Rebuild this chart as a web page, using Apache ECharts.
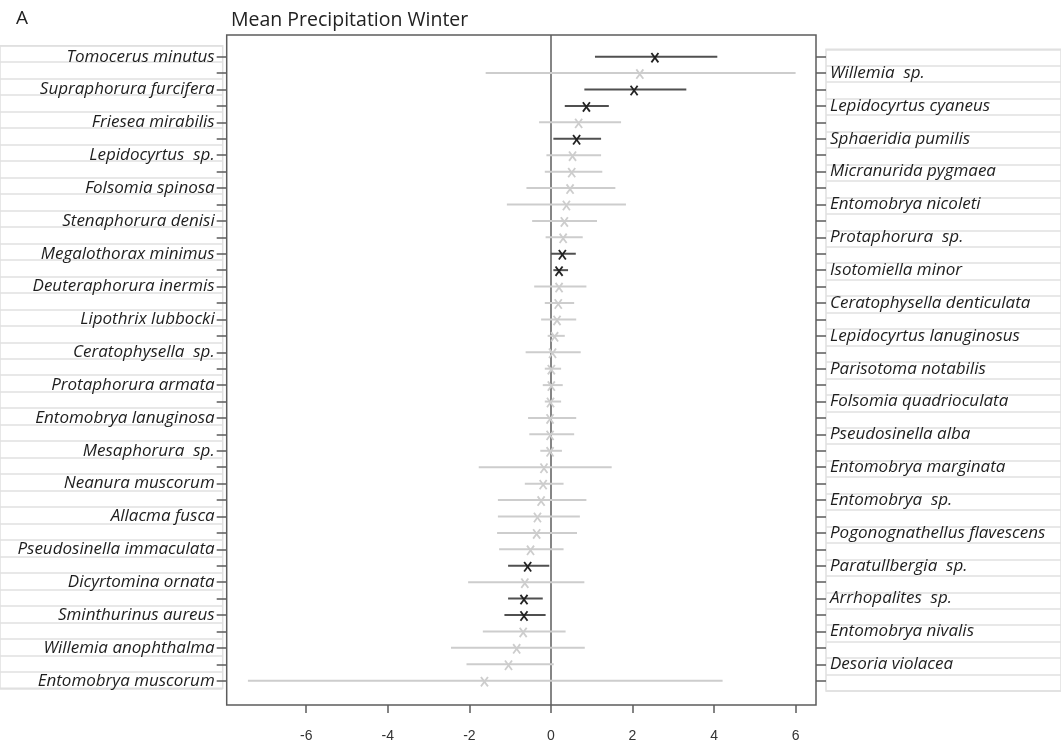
<!DOCTYPE html>
<html>
<head>
<meta charset="utf-8">
<title>Mean Precipitation Winter</title>
<script src="https://cdn.jsdelivr.net/npm/echarts@6/dist/echarts.min.js"></script>
<style>
  html, body { margin: 0; padding: 0; background: #ffffff; }
  #chart { width: 1061px; height: 749px; }
</style>
</head>
<body>
<div id="chart"></div>
<script>
// Species, ordered from the largest to the smallest effect (row 0 at the top)
const species = [
  'Tomocerus minutus', 'Willemia  sp.', 'Supraphorura furcifera', 'Lepidocyrtus cyaneus',
  'Friesea mirabilis', 'Sphaeridia pumilis', 'Lepidocyrtus  sp.', 'Micranurida pygmaea',
  'Folsomia spinosa', 'Entomobrya nicoleti', 'Stenaphorura denisi', 'Protaphorura  sp.',
  'Megalothorax minimus', 'Isotomiella minor', 'Deuteraphorura inermis', 'Ceratophysella denticulata',
  'Lipothrix lubbocki', 'Lepidocyrtus lanuginosus', 'Ceratophysella  sp.', 'Parisotoma notabilis',
  'Protaphorura armata', 'Folsomia quadrioculata', 'Entomobrya lanuginosa', 'Pseudosinella alba',
  'Mesaphorura  sp.', 'Entomobrya marginata', 'Neanura muscorum', 'Entomobrya  sp.',
  'Allacma fusca', 'Pogonognathellus flavescens', 'Pseudosinella immaculata', 'Paratullbergia  sp.',
  'Dicyrtomina ornata', 'Arrhopalites  sp.', 'Sminthurinus aureus', 'Entomobrya nivalis',
  'Willemia anophthalma', 'Desoria violacea', 'Entomobrya muscorum'
];

// Effect estimates with lower and upper interval bounds
const estimate = [
  2.55, 2.18, 2.04, 0.87, 0.68, 0.63, 0.53, 0.51, 0.47, 0.38,
  0.33, 0.30, 0.28, 0.20, 0.20, 0.18, 0.15, 0.09, 0.04, 0.01,
  0.01, -0.01, -0.02, -0.02, -0.02, -0.17, -0.19, -0.24, -0.33, -0.35,
  -0.50, -0.57, -0.64, -0.66, -0.66, -0.68, -0.84, -1.04, -1.63
];
const lower = [
  1.08, -1.60, 0.82, 0.34, -0.29, 0.06, -0.11, -0.15, -0.60, -1.08,
  -0.46, -0.13, 0.00, 0.06, -0.41, -0.15, -0.24, -0.08, -0.62, -0.15,
  -0.20, -0.15, -0.56, -0.53, -0.26, -1.77, -0.64, -1.30, -1.30, -1.32,
  -1.27, -1.05, -2.03, -1.05, -1.14, -1.67, -2.45, -2.07, -7.43
];
const upper = [
  4.08, 6.00, 3.32, 1.42, 1.72, 1.23, 1.23, 1.26, 1.58, 1.84,
  1.13, 0.78, 0.61, 0.42, 0.87, 0.57, 0.62, 0.34, 0.73, 0.25,
  0.29, 0.25, 0.62, 0.57, 0.27, 1.49, 0.31, 0.87, 0.71, 0.64,
  0.31, -0.04, 0.82, -0.20, -0.13, 0.36, 0.83, 0.07, 4.21
];
// 1 = interval excludes zero (drawn dark), 0 = not significant (drawn light)
const significant = [
  1, 0, 1, 1, 0, 1, 0, 0, 0, 0,
  0, 0, 1, 1, 0, 0, 0, 0, 0, 0,
  0, 0, 0, 0, 0, 0, 0, 0, 0, 0,
  0, 1, 0, 1, 1, 0, 0, 0, 0
];

const xTicks = [-6, -4, -2, 0, 2, 4, 6];

const rows = species.map((_, i) => i);
const leftRows = rows.filter(i => i % 2 === 0);
const rightRows = rows.filter(i => i % 2 === 1);
const seriesData = rows.map(i => [lower[i], upper[i], estimate[i], i, significant[i]]);

const DARK_LINE = '#505050';
const DARK_MARK = '#222222';
const LIGHT = '#cdcdcd';
const FRAME = '#5c5c5c';
const TABLE = '#e0e0e0';
const LABEL_FONT = '"Open Sans", Lato, sans-serif';

const chart = echarts.init(document.getElementById('chart'), null, { renderer: 'canvas' });

function tableAxis(gridIndex) {
  return {
    type: 'value', gridIndex: gridIndex, min: 0, max: species.length, interval: 1,
    axisLine: { show: false, onZero: false }, axisTick: { show: false }, axisLabel: { show: false },
    splitLine: { show: true, lineStyle: { color: TABLE, width: 1.5 } }
  };
}
function hiddenX(gridIndex) {
  return { type: 'value', gridIndex: gridIndex, show: false, min: 0, max: 1 };
}

const rowAxis = {
  type: 'value', inverse: true, min: -1.32, max: 39.48,
  axisLine: { show: false, onZero: false },
  splitLine: { show: false },
  axisTick: { show: true, length: 10, customValues: rows, lineStyle: { color: FRAME, width: 1.5 } }
};

chart.setOption({
  animation: false,
  backgroundColor: '#ffffff',
  title: [
    { text: 'A', left: 11, top: 4, textStyle: { fontFamily: LABEL_FONT, fontSize: 19, fontWeight: 'normal', color: '#222' } },
    { text: 'Mean Precipitation Winter', left: 226, top: 5, textStyle: { fontFamily: LABEL_FONT, fontSize: 19.5, fontWeight: 'normal', color: '#222' } }
  ],
  grid: [
    { left: 226.7, right: 245, top: 35, bottom: 44, show: true, borderColor: FRAME, borderWidth: 1.5, z: 3 },
    { left: 0, top: 45.7, width: 222.7, height: 642.6, show: true, borderColor: TABLE, borderWidth: 1.5, z: 0 },
    { left: 826, top: 49.3, width: 250, height: 641.7, show: true, borderColor: TABLE, borderWidth: 1.5, z: 0 }
  ],
  xAxis: [
    {
      type: 'value', gridIndex: 0, min: -7.95, max: 6.5, position: 'bottom',
      axisLine: { show: false, onZero: false },
      splitLine: { show: false },
      axisTick: { show: true, length: 8, customValues: xTicks, lineStyle: { color: FRAME, width: 1.5 } },
      axisLabel: { customValues: xTicks, margin: 24, fontFamily: '"Liberation Sans", Arial, sans-serif', fontSize: 14, color: '#333' }
    },
    hiddenX(1),
    hiddenX(2)
  ],
  yAxis: [
    Object.assign({}, rowAxis, {
      gridIndex: 0, position: 'left',
      axisLabel: {
        customValues: leftRows, margin: 12, padding: [0, 0, 3, 0],
        formatter: v => species[Math.round(v)],
        fontFamily: LABEL_FONT, fontStyle: 'italic', fontSize: 17, color: '#1e1e1e'
      }
    }),
    Object.assign({}, rowAxis, {
      gridIndex: 0, position: 'right',
      axisLabel: {
        customValues: rightRows, margin: 14, padding: [7, 0, 0, 0],
        formatter: v => species[Math.round(v)],
        fontFamily: LABEL_FONT, fontStyle: 'italic', fontSize: 17, color: '#1e1e1e'
      }
    }),
    tableAxis(1),
    tableAxis(2)
  ],
  series: [
    {
      type: 'custom',
      xAxisIndex: 0, yAxisIndex: 0,
      data: seriesData,
      encode: { x: [0, 1, 2], y: 3 },
      z: 5,
      renderItem: function (params, api) {
        const row = api.value(3);
        const lo = api.coord([api.value(0), row]);
        const hi = api.coord([api.value(1), row]);
        const est = api.coord([api.value(2), row]);
        const sig = api.value(4) === 1;
        const lineColor = sig ? DARK_LINE : LIGHT;
        const markColor = sig ? DARK_MARK : LIGHT;
        const cx = est[0], cy = est[1] + 1;
        const hw = 3.5, hh = 4.7;
        return {
          type: 'group',
          children: [
            { type: 'line', shape: { x1: lo[0], y1: lo[1], x2: hi[0], y2: hi[1] },
              style: { stroke: lineColor, lineWidth: 2 } },
            { type: 'line', shape: { x1: cx - hw, y1: cy - hh, x2: cx + hw, y2: cy + hh },
              style: { stroke: markColor, lineWidth: 1.8 } },
            { type: 'line', shape: { x1: cx - hw, y1: cy + hh, x2: cx + hw, y2: cy - hh },
              style: { stroke: markColor, lineWidth: 1.8 } }
          ]
        };
      },
      markLine: {
        silent: true, symbol: 'none', animation: false,
        label: { show: false },
        lineStyle: { color: FRAME, width: 1.5, type: 'solid' },
        data: [{ xAxis: 0 }]
      }
    }
  ]
});
</script>
</body>
</html>
